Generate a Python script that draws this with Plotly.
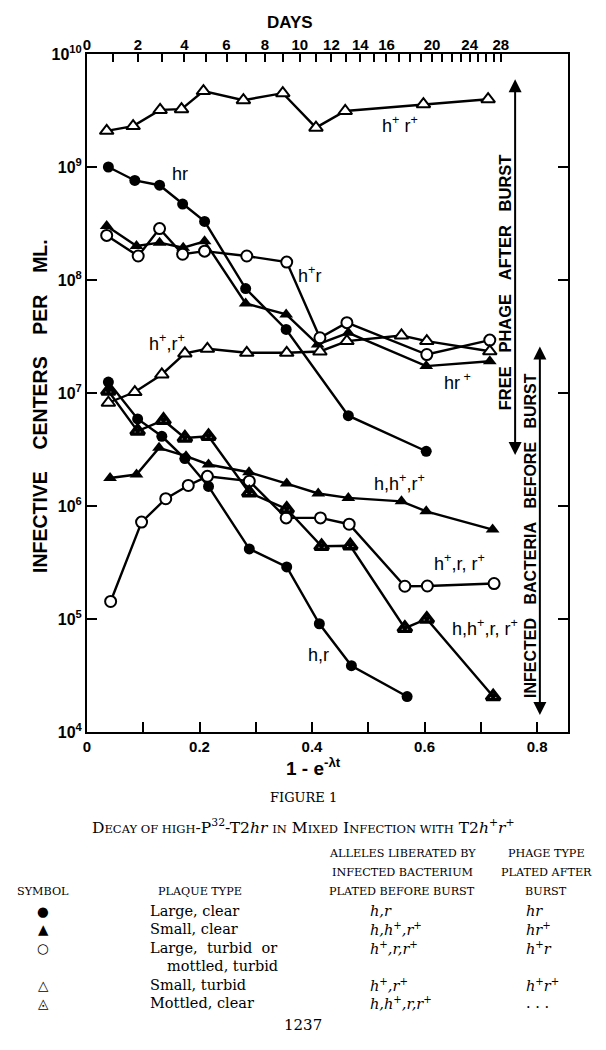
import numpy as np
import plotly.graph_objects as go

# ---------------- data ----------------
# free phage after burst
x_hr = [0.038, 0.085, 0.129, 0.170, 0.209, 0.282, 0.354, 0.4645, 0.603]
y_hr = [1.0e9, 7.6e8, 6.9e8, 4.7e8, 3.3e8, 8.4e7, 3.65e7, 6.3e6, 3.05e6]

x_hrp = [0.035, 0.088, 0.129, 0.171, 0.209, 0.282, 0.354, 0.41, 0.4645, 0.603, 0.716]
y_hrp = [3.0e8, 2.0e8, 2.14e8, 1.93e8, 2.2e8, 6.2e7, 4.96e7, 2.69e7, 3.41e7, 1.73e7, 1.91e7]

x_hpr = [0.035, 0.091, 0.129, 0.170, 0.209, 0.284, 0.355, 0.414, 0.462, 0.604, 0.716]
y_hpr = [2.48e8, 1.63e8, 2.85e8, 1.69e8, 1.80e8, 1.63e8, 1.44e8, 3.08e7, 4.19e7, 2.19e7, 2.94e7]

x_hprp = [0.035, 0.082, 0.130, 0.168, 0.207, 0.278, 0.348, 0.407, 0.459, 0.598, 0.713]
y_hprp = [2.09e9, 2.3e9, 3.2e9, 3.25e9, 4.7e9, 3.9e9, 4.5e9, 2.23e9, 3.13e9, 3.6e9, 3.98e9]

# infected bacteria before burst
x_b_hr = [0.038, 0.090, 0.133, 0.174, 0.216, 0.2885, 0.355, 0.413, 0.470, 0.569]
y_b_hr = [1.25e7, 5.9e6, 4.14e6, 2.63e6, 1.49e6, 4.17e5, 2.89e5, 9.08e4, 3.86e4, 2.06e4]

x_b_hhprp = [0.041, 0.088, 0.128, 0.176, 0.216, 0.288, 0.355, 0.411, 0.4645, 0.559, 0.603, 0.721]
y_b_hhprp = [1.77e6, 1.9e6, 3.27e6, 2.76e6, 2.33e6, 1.99e6, 1.58e6, 1.29e6, 1.18e6, 1.1e6, 8.97e5, 6.18e5]

x_b_hprrp = [0.042, 0.097, 0.140, 0.180, 0.214, 0.2885, 0.354, 0.415, 0.466, 0.565, 0.605, 0.7236]
y_b_hprrp = [1.43e5, 7.2e5, 1.16e6, 1.52e6, 1.83e6, 1.66e6, 7.85e5, 7.85e5, 6.9e5, 1.95e5, 1.96e5, 2.06e5]

x_b_hprp = [0.038, 0.085, 0.133, 0.174, 0.214, 0.284, 0.355, 0.414, 0.462, 0.559, 0.604, 0.716]
y_b_hprp = [8.2e6, 1.02e7, 1.46e7, 2.24e7, 2.46e7, 2.27e7, 2.27e7, 2.33e7, 2.88e7, 3.23e7, 2.88e7, 2.34e7]

x_b_mot = [0.038, 0.090, 0.136, 0.174, 0.216, 0.2885, 0.355, 0.417, 0.468, 0.565, 0.604, 0.722]
y_b_mot = [1.04e7, 4.6e6, 5.74e6, 4.0e6, 4.14e6, 1.31e6, 9.4e5, 4.4e5, 4.45e5, 8.3e4, 1.0e5, 2.06e4]

# axes
x_ticks = [0, 0.1, 0.2, 0.3, 0.4, 0.5, 0.6, 0.7, 0.8]
x_ticklabels = ["0", "", "0.2", "", "0.4", "", "0.6", "", "0.8"]
y_exponents = [4, 5, 6, 7, 8, 9, 10]
day_ticks = list(range(0, 29))
day_labeled = [0, 2, 4, 6, 8, 10, 12, 14, 16, 20, 24, 28]
LAMBDA = 0.0475  # decay constant per day

# curve labels: (text, x, log10 y)
curve_labels = [
    ("hr", 0.165, 8.935),
    ("h<sup>+</sup>r", 0.396, 8.05),
    ("h<sup>+</sup> r<sup>+</sup>", 0.556, 9.378),
    ("h<sup>+</sup>,r<sup>+</sup>", 0.142, 7.447),
    ("hr<sup> +</sup>", 0.658, 7.10),
    ("h,h<sup>+</sup>,r<sup>+</sup>", 0.556, 6.207),
    ("h<sup>+</sup>,r, r<sup>+</sup>", 0.663, 5.498),
    ("h,h<sup>+</sup>,r, r<sup>+</sup>", 0.708, 4.923),
    ("h,r", 0.411, 4.684),
]

# ---------------- layout geometry ----------------
W, H = 606, 1050
ML, MR, MT, MB = 87, 38, 54, 318
PW, PH = W - ML - MR, H - MT - MB


def px(xp):
    return (xp - ML) / PW


def py(yp):
    return (H - MB - yp) / PH


fig = go.Figure()

series = [
    (x_hprp, y_hprp, "triangle-up", "white", 2),
    (x_hr, y_hr, "circle", "black", 0),
    (x_hrp, y_hrp, "triangle-up", "black", 0),
    (x_hpr, y_hpr, "circle", "white", 2),
    (x_b_hprp, y_b_hprp, "triangle-up", "white", 2),
    (x_b_hr, y_b_hr, "circle", "black", 0),
    (x_b_hhprp, y_b_hhprp, "triangle-up", "black", 0),
    (x_b_hprrp, y_b_hprrp, "circle", "white", 2),
    (x_b_mot, y_b_mot, "triangle-up-dot", "white", 3.5),
]

for xs, ys, *_ in series:
    fig.add_trace(go.Scatter(x=xs, y=ys, mode="lines",
                             line=dict(color="black", width=2.4),
                             hoverinfo="skip"))
for xs, ys, sym, fillc, lw in series:
    fig.add_trace(go.Scatter(x=xs, y=ys, mode="markers",
                             marker=dict(symbol=sym, size=11 if "circle" in sym else 12,
                                         color=fillc,
                                         line=dict(color="black", width=lw)),
                             hoverinfo="skip"))

# invisible trace to anchor the top (days) axis
fig.add_trace(go.Scatter(x=[0.0], y=[1e5], xaxis="x2", mode="markers",
                         marker=dict(opacity=0), hoverinfo="skip"))

day_pos = [1 - np.exp(-LAMBDA * d) for d in day_ticks]
day_text = [f"<b>{d}</b>" if d in day_labeled else "" for d in day_ticks]

tickfont = dict(family="Liberation Sans", size=15, color="black")

fig.update_layout(
    width=W, height=H,
    margin=dict(l=ML, r=MR, t=MT, b=MB, autoexpand=False),
    plot_bgcolor="white", paper_bgcolor="white",
    showlegend=False,
    xaxis=dict(range=[0, 0.855], tickvals=x_ticks,
               ticktext=[f"<b>{t}</b>" for t in x_ticklabels],
               ticks="inside", ticklen=10, tickwidth=2, tickcolor="black",
               showline=True, linewidth=2, linecolor="black", mirror=True,
               showgrid=False, zeroline=False, tickfont=tickfont, automargin=False),
    xaxis2=dict(range=[0, 0.855], overlaying="x", side="top",
                tickvals=day_pos, ticktext=day_text,
                ticks="inside", ticklen=8, tickwidth=2, tickcolor="black",
                showline=False, showgrid=False, zeroline=False,
                tickfont=tickfont, automargin=False),
    yaxis=dict(type="log", range=[4, 10],
               tickvals=[10 ** e for e in y_exponents],
               ticktext=[f"<b>10<sup>{e}</sup></b>" for e in y_exponents],
               ticks="inside", ticklen=10, tickwidth=2, tickcolor="black",
               showline=True, linewidth=2, linecolor="black", mirror="ticks",
               showgrid=False, zeroline=False, automargin=False,
               tickfont=dict(family="Liberation Sans", size=16, color="black")),
)

ann = []
for txt_, xv, lyv in curve_labels:
    ann.append(dict(x=xv, y=lyv, xref="x", yref="y", text=txt_, showarrow=False,
                    xanchor="center", yanchor="middle",
                    font=dict(family="Liberation Sans", size=18, color="black")))

NB = "\u00a0"
ann += [
    dict(x=px(40), y=py(406), xref="paper", yref="paper", textangle=-90,
         xanchor="center", yanchor="middle",
         text="<b>INFECTIVE" + NB * 4 + "CENTERS" + NB * 4 + "PER" + NB * 4 + "ML.</b>",
         showarrow=False, font=dict(family="Liberation Sans", size=19.5, color="black")),
    dict(x=px(290), y=py(22), xref="paper", yref="paper", text="<b>DAYS</b>",
         xanchor="center", yanchor="middle",
         showarrow=False, font=dict(family="Liberation Sans", size=17, color="black")),
    dict(x=px(313), y=py(767), xref="paper", yref="paper",
         xanchor="center", yanchor="middle",
         text="<b>1 - e<sup>-\u03bbt</sup></b>",
         showarrow=False, font=dict(family="Liberation Sans", size=19, color="black")),
    # right side arrows
    dict(x=0.761, y=9.777, ax=0.761, ay=6.438, xref="x", yref="y", axref="x", ayref="y",
         text="", showarrow=True, arrowhead=2, arrowside="end+start",
         arrowsize=1.3, arrowwidth=2, arrowcolor="black"),
    dict(x=0.805, y=7.412, ax=0.805, ay=4.137, xref="x", yref="y", axref="x", ayref="y",
         text="", showarrow=True, arrowhead=2, arrowside="end+start",
         arrowsize=1.3, arrowwidth=2, arrowcolor="black"),
    dict(x=0.743, y=7.979, xref="x", yref="y", textangle=-90,
         xanchor="center", yanchor="middle",
         text="<b>FREE" + NB * 3 + "PHAGE" + NB * 3 + "AFTER" + NB * 3 + "BURST</b>",
         showarrow=False, font=dict(family="Liberation Sans", size=16.5, color="black")),
    dict(x=0.788, y=5.738, xref="x", yref="y", textangle=-90,
         xanchor="center", yanchor="middle",
         text="<b>INFECTED" + NB * 3 + "BACTERIA" + NB * 3 + "BEFORE" + NB * 3 + "BURST</b>",
         showarrow=False, font=dict(family="Liberation Sans", size=16, color="black")),
]

SERIF = "DejaVu Serif"
sm = '<span style="font-size:11.5px">'
title = ("D" + sm + "ECAY OF HIGH</span>-P<sup>32</sup>-T2<i>hr</i> " + sm + "IN</span> M"
         + sm + "IXED</span> I" + sm + "NFECTION WITH</span> T2<i>h</i><sup>+</sup><i>r</i><sup>+</sup>")


def txt(x, y, text, size=13.5, anchor="center", family=SERIF):
    return dict(x=px(x), y=py(y), xref="paper", yref="paper", text=text,
                showarrow=False, xanchor=anchor, yanchor="middle",
                font=dict(family=family, size=size, color="black"))


ann += [
    txt(303, 797, "FIGURE" + NB + "1", size=13),
    txt(303, 826, title, size=15.5),
    txt(402, 853, "ALLELES LIBERATED BY", size=11.2),
    txt(402, 872, "INFECTED BACTERIUM", size=11.2),
    txt(402, 891, "PLATED BEFORE BURST", size=11.2),
    txt(546, 853, "PHAGE TYPE", size=11.2),
    txt(546, 872, "PLATED AFTER", size=11.2),
    txt(546, 891, "BURST", size=11.2),
    txt(43, 891, "SYMBOL", size=11.2),
    txt(200, 891, "PLAQUE TYPE", size=11.2),
]

table_symbols = ["\u25cf", "\u25b2", "\u25cb", "\u25b3", "\u25ec"]
plaque_rows = [("Large, clear", 148, 911), ("Small, clear", 148, 929),
               ("Large,  turbid  or", 148, 948), ("mottled, turbid", 165, 966),
               ("Small, turbid", 148, 985), ("Mottled, clear", 148, 1003)]
allele_rows = ["<i>h,r</i>", "<i>h,h</i><sup>+</sup><i>,r</i><sup>+</sup>",
               "<i>h</i><sup>+</sup><i>,r,r</i><sup>+</sup>", "<i>h</i><sup>+</sup><i>,r</i><sup>+</sup>",
               "<i>h,h</i><sup>+</sup><i>,r,r</i><sup>+</sup>"]
phage_rows = ["<i>hr</i>", "<i>hr</i><sup>+</sup>", "<i>h</i><sup>+</sup><i>r</i>",
              "<i>h</i><sup>+</sup><i>r</i><sup>+</sup>", ". . ."]
row_y = [911, 929, 948, 985, 1003]

for s, yv in zip(table_symbols, row_y):
    ann.append(txt(43, yv, s, size=13.5, family="DejaVu Sans"))
for t, xv, yv in plaque_rows:
    ann.append(txt(xv, yv, t.replace("  ", NB * 2), size=14.5, anchor="left"))
for t, yv in zip(allele_rows, row_y):
    ann.append(txt(368, yv, t, size=14.5, anchor="left"))
for t, yv in zip(phage_rows, row_y):
    ann.append(txt(524, yv, t, size=14.5, anchor="left"))
ann.append(txt(303, 1025, "1237", size=15))

fig.update_layout(annotations=ann)

fig.write_html("out.html", config={"displayModeBar": False},
               post_script="document.body.style.margin='0';document.body.style.padding='0';")
